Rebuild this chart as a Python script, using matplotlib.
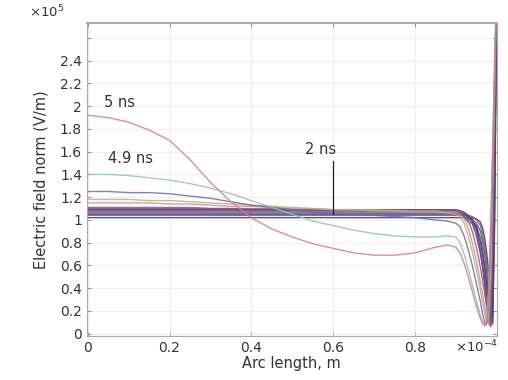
import matplotlib
matplotlib.use('Agg')
import matplotlib.pyplot as plt

# arc length (x 1e-4 m)
arc = [0, .05, .1, .15, .2, .25, .3, .35, .4, .45, .5, .55, .6, .65, .7, .75, .8, .85, .88,
       .9, .91, .92, .93, .94, .95, .96, .965, .97, .975, .98, .985, .99, .995, 1.0]

# electric field norm (x 1e5 V/m) for each time step
e_5_0 = [1.92, 1.90, 1.86, 1.79, 1.70, 1.53, 1.33, 1.16, 1.02, 0.92, 0.85, 0.79, 0.75, 0.71, 0.69, 0.69, 0.71, 0.76, 0.78,
         0.76, 0.71, 0.62, 0.50, 0.37, 0.24, 0.13, 0.09, 0.07, 0.10, 0.35, 0.90, 1.60, 2.40, 3.10]
e_4_9 = [1.40, 1.40, 1.39, 1.37, 1.35, 1.32, 1.28, 1.23, 1.17, 1.11, 1.05, 0.99, 0.95, 0.91, 0.88, 0.86, 0.85, 0.85, 0.86,
         0.85, 0.80, 0.70, 0.57, 0.43, 0.29, 0.16, 0.10, 0.07, 0.12, 0.40, 1.00, 1.70, 2.50, 3.10]
e_4_8 = [1.25, 1.25, 1.24, 1.24, 1.23, 1.21, 1.19, 1.16, 1.13, 1.11, 1.09, 1.07, 1.06, 1.05, 1.04, 1.03, 1.02, 1.00, 0.99,
         0.97, 0.94, 0.86, 0.74, 0.60, 0.44, 0.28, 0.18, 0.10, 0.08, 0.30, 0.85, 1.55, 2.35, 3.10]
e_4_7 = [1.18, 1.18, 1.18, 1.17, 1.17, 1.16, 1.15, 1.14, 1.13, 1.12, 1.11, 1.10, 1.09, 1.09, 1.08, 1.08, 1.07, 1.07, 1.06,
         1.05, 1.03, 0.97, 0.86, 0.72, 0.56, 0.38, 0.28, 0.18, 0.10, 0.15, 0.70, 1.45, 2.30, 3.10]
e_4_6 = [1.15, 1.15, 1.15, 1.15, 1.14, 1.14, 1.13, 1.12, 1.12, 1.11, 1.10, 1.10, 1.09, 1.09, 1.09, 1.08, 1.08, 1.08, 1.07,
         1.07, 1.05, 1.01, 0.93, 0.80, 0.64, 0.45, 0.35, 0.24, 0.14, 0.08, 0.50, 1.30, 2.20, 3.10]
e_4_5 = [1.11, 1.11, 1.11, 1.11, 1.11, 1.11, 1.10, 1.10, 1.10, 1.10, 1.09, 1.09, 1.09, 1.09, 1.09, 1.09, 1.08, 1.08, 1.08,
         1.08, 1.07, 1.05, 1.00, 0.90, 0.76, 0.58, 0.47, 0.36, 0.24, 0.12, 0.08, 0.90, 2.00, 3.10]
e_4_0 = [1.10, 1.10, 1.10, 1.10, 1.10, 1.10, 1.10, 1.10, 1.09, 1.09, 1.09, 1.09, 1.09, 1.09, 1.09, 1.09, 1.09, 1.08, 1.08,
         1.08, 1.08, 1.07, 1.04, 0.97, 0.86, 0.70, 0.60, 0.48, 0.34, 0.20, 0.09, 0.60, 1.80, 3.10]
e_3_5 = [1.09, 1.09, 1.09, 1.09, 1.09, 1.09, 1.09, 1.09, 1.09, 1.09, 1.09, 1.09, 1.09, 1.09, 1.09, 1.09, 1.09, 1.09, 1.09,
         1.09, 1.08, 1.06, 1.03, 1.00, 0.93, 0.80, 0.70, 0.58, 0.44, 0.28, 0.12, 0.30, 1.50, 3.10]
e_3_0 = [1.08, 1.08, 1.08, 1.08, 1.08, 1.08, 1.08, 1.08, 1.08, 1.08, 1.08, 1.08, 1.08, 1.08, 1.08, 1.08, 1.08, 1.08, 1.08,
         1.08, 1.07, 1.02, 1.00, 1.01, 0.92, 0.72, 0.58, 0.42, 0.26, 0.12, 0.06, 0.80, 2.00, 3.10]
e_2_5 = [1.07, 1.07, 1.07, 1.07, 1.07, 1.07, 1.07, 1.07, 1.07, 1.07, 1.07, 1.07, 1.07, 1.07, 1.07, 1.07, 1.07, 1.07, 1.07,
         1.07, 1.06, 1.03, 0.98, 0.97, 0.90, 0.74, 0.62, 0.48, 0.32, 0.16, 0.07, 0.60, 1.90, 3.10]
e_2_0 = [1.06, 1.06, 1.06, 1.06, 1.06, 1.06, 1.06, 1.06, 1.06, 1.06, 1.06, 1.06, 1.06, 1.06, 1.06, 1.06, 1.06, 1.06, 1.06,
         1.06, 1.06, 1.05, 1.02, 0.98, 0.95, 0.84, 0.74, 0.60, 0.44, 0.26, 0.10, 0.40, 1.70, 3.10]
e_1_5 = [1.05, 1.05, 1.05, 1.05, 1.05, 1.05, 1.05, 1.05, 1.05, 1.05, 1.05, 1.05, 1.05, 1.05, 1.05, 1.05, 1.05, 1.05, 1.05,
         1.05, 1.05, 1.05, 1.04, 1.00, 0.97, 0.90, 0.82, 0.70, 0.54, 0.36, 0.16, 0.10, 1.40, 3.10]
e_1_0 = [1.04, 1.04, 1.04, 1.04, 1.04, 1.04, 1.04, 1.04, 1.04, 1.04, 1.04, 1.04, 1.04, 1.04, 1.04, 1.04, 1.04, 1.04, 1.04,
         1.04, 1.04, 1.04, 1.04, 1.03, 1.00, 0.95, 0.88, 0.78, 0.64, 0.46, 0.26, 0.08, 1.20, 3.10]
e_0_5 = [1.02, 1.02, 1.02, 1.02, 1.02, 1.02, 1.02, 1.02, 1.02, 1.02, 1.02, 1.02, 1.02, 1.02, 1.02, 1.02, 1.02, 1.02, 1.02,
         1.02, 1.02, 1.02, 1.02, 1.02, 1.01, 0.98, 0.93, 0.85, 0.72, 0.55, 0.34, 0.14, 1.00, 3.10]

curves = [e_0_5, e_1_0, e_1_5, e_2_0, e_2_5, e_3_0, e_3_5, e_4_0, e_4_5, e_4_6, e_4_7, e_4_8, e_4_9, e_5_0]
colors = ['#3a3a55', '#8a4a70', '#4a4a90', '#555560', '#7a5a9a', '#93405f', '#3c3c80',
          '#6a4a7a', '#8a5a8a', '#d08aa0', '#bdb070', '#6a6ab0', '#86c8a8', '#d77a86']

fig = plt.figure(figsize=(5.08, 3.8), dpi=100)
ax = fig.add_axes([0.171, 0.116, 0.807, 0.823])

for y, c in zip(curves, colors):
    ax.plot(arc, y, color=c, lw=1.0, alpha=0.85)

ax.set_xlim(-0.002, 1.0)
ax.set_ylim(-0.02, 2.73)

ax.set_xticks([0, 0.2, 0.4, 0.6, 0.8, 1.0])
ax.set_xticklabels(['0', '0.2', '0.4', '0.6', '0.8', ''])
yt = [0, 0.2, 0.4, 0.6, 0.8, 1, 1.2, 1.4, 1.6, 1.8, 2, 2.2, 2.4, 2.6]
ax.set_yticks(yt)
ax.set_yticklabels(['%g' % v for v in yt[:-1]] + [''])

ax.tick_params(direction='in', length=3, color='#999999', labelcolor='#333333',
               labelsize=10, top=True, right=True)
ax.grid(True, color='#eeeeee', lw=0.8)
for s in ax.spines.values():
    s.set_color('#aaaaaa')
ax.spines['top'].set_linewidth(1.5)

ax.set_xlabel('Arc length, m', fontsize=10.5, color='#333333', labelpad=1)
ax.set_ylabel('Electric field norm (V/m)', fontsize=10.5, color='#333333', labelpad=8)

fig.text(0.058, 0.955, r'$\times10^5$', fontsize=9.5, color='#333333')
fig.text(0.895, 0.073, r'$\times10^{-4}$', fontsize=9.5, color='#333333')

ax.text(0.04, 2.03, '5 ns', fontsize=10.5, color='#333333', va='center')
ax.text(0.05, 1.54, '4.9 ns', fontsize=10.5, color='#333333', va='center')
ax.text(0.57, 1.62, '2 ns', fontsize=10.5, color='#333333', va='center', ha='center')
ax.plot([0.6, 0.6], [1.52, 1.05], color='#222222', lw=0.9)

fig.savefig('out.png')
